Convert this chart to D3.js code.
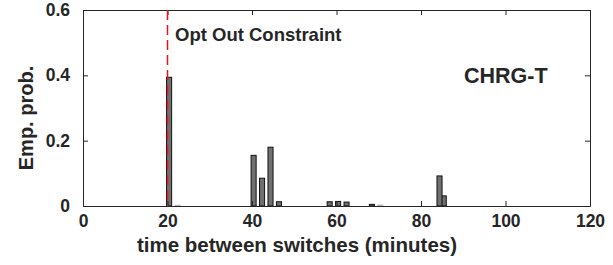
<!DOCTYPE html>
<html><head><meta charset="utf-8">
<script src="https://cdn.jsdelivr.net/npm/d3@7"></script>
<style>
body{margin:0;background:#fff;}
text{font-family:"Liberation Sans",Arial,sans-serif;font-weight:bold;fill:#262626;}
</style></head>
<body><svg id="c" width="613" height="265"></svg>
<script>
const binCenters = [20.5, 22.5, 40.5, 42.5, 44.5, 46.5, 58.5, 60.5, 62.5, 68.5, 70.5, 85.5, 84.5];
const probValues = [0.394, 0.002, 0.155, 0.085, 0.18, 0.013, 0.013, 0.014, 0.012, 0.005, 0.003, 0.031, 0.092];
const xTicks = [0, 20, 40, 60, 80, 100, 120];
const yTicks = [0, 0.2, 0.4, 0.6];
const yTickLabels = ["0", "0.2", "0.4", "0.6"];
const constraintX = 20;
const constraintLabel = "Opt Out Constraint";
const seriesLabel = "CHRG-T";
const xLabel = "time between switches (minutes)";
const yLabel = "Emp. prob.";

const svg = d3.select("#c");
const L = 83, R = 590, T = 10, B = 206;
const x = d3.scaleLinear().domain([0, 120]).range([L, R]);
const y = d3.scaleLinear().domain([0, 0.6]).range([B, T]);
const bw = x(1.2) - x(0);

// bars
svg.append("g").selectAll("rect").data(binCenters.map((c, i) => ({c, v: probValues[i]})))
  .join("rect")
  .attr("x", d => x(d.c) - bw / 2 - 0.5)
  .attr("y", d => y(d.v))
  .attr("width", bw)
  .attr("height", d => Math.max(0, y(0) - y(d.v)))
  .attr("fill", "#707070")
  .attr("stroke", d => d.v < 0.004 ? "#bbb" : "#111")
  .attr("stroke-width", 1);

// axes
const ax = svg.append("g").attr("transform", `translate(0,${B})`)
  .call(d3.axisBottom(x).tickValues(xTicks).tickSizeInner(-5).tickSizeOuter(0).tickPadding(9));
const axTop = svg.append("g").attr("transform", `translate(0,${T})`)
  .call(d3.axisTop(x).tickValues(xTicks).tickSizeInner(-5).tickSizeOuter(0).tickFormat(""));
const ay = svg.append("g").attr("transform", `translate(${L},0)`)
  .call(d3.axisLeft(y).tickValues(yTicks).tickFormat((d, i) => yTickLabels[i]).tickSizeInner(-5).tickSizeOuter(0).tickPadding(13));
const ayR = svg.append("g").attr("transform", `translate(${R},0)`)
  .call(d3.axisRight(y).tickValues(yTicks).tickSizeInner(-5).tickSizeOuter(0).tickFormat(""));
[ax, axTop, ay, ayR].forEach(g => {
  g.select(".domain").attr("stroke", "#262626");
  g.selectAll(".tick line").attr("stroke", "#262626");
  g.selectAll("text").attr("font-size", 17.5).attr("font-family", null).attr("fill", "#262626");
});

// constraint line
svg.append("line")
  .attr("x1", x(constraintX)).attr("x2", x(constraintX))
  .attr("y1", T).attr("y2", B)
  .attr("stroke", "#e8131b").attr("stroke-width", 1.5).attr("stroke-dasharray", "10,5");

svg.append("text").attr("x", 175).attr("y", 41).attr("font-size", 18.5).attr("fill", "#000").text(constraintLabel);
svg.append("text").attr("x", 464).attr("y", 83).attr("font-size", 21.5).attr("fill", "#000").text(seriesLabel);

svg.append("text").attr("x", 297).attr("y", 252).attr("text-anchor", "middle").attr("font-size", 20.5).text(xLabel);
svg.append("text").attr("transform", "translate(33,118) rotate(-90)").attr("text-anchor", "middle").attr("font-size", 20).text(yLabel);
</script></body></html>
